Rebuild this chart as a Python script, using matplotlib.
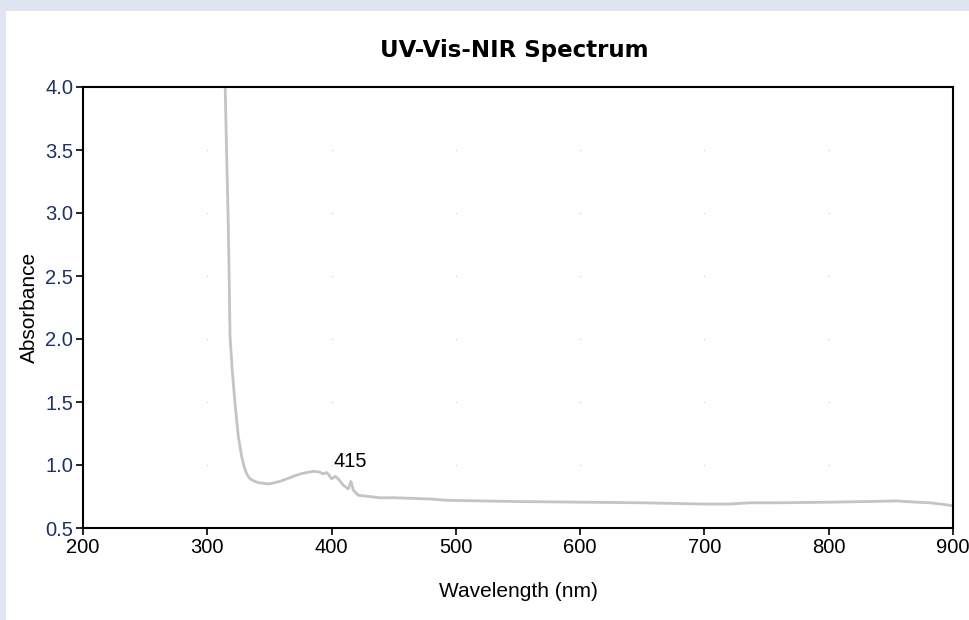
import numpy as np
import matplotlib.pyplot as plt
from matplotlib.patches import Rectangle

# spectrum
wavelength = [314.2, 314.4, 315.5, 316.7, 317.5, 318.3, 320.1, 322.3, 325.0, 327.6,
              329.5, 331.7, 334.0, 337.0, 341.0, 345.0, 349.0, 352.0, 358.5, 364.0,
              369.2, 375.0, 380.0, 385.3, 390.0, 393.3, 396.0, 398.0, 400.0, 403.0,
              405.4, 409.4, 413.4, 415.6, 417.5, 421.5, 430.0, 439.0, 450.0, 465.8,
              480.0, 492.6, 519.4, 550.0, 600.0, 650.0, 700.0, 720.0, 736.7, 760.0,
              801.0, 830.0, 854.6, 870.0, 881.5, 890.0, 897.6, 900.0]
absorbance = [4.2, 4.0, 3.5, 3.0, 2.55, 2.02, 1.75, 1.49, 1.225, 1.07,
              0.99, 0.93, 0.895, 0.875, 0.86, 0.855, 0.85, 0.855, 0.87, 0.89,
              0.91, 0.93, 0.94, 0.95, 0.945, 0.93, 0.94, 0.92, 0.89, 0.91,
              0.89, 0.84, 0.81, 0.87, 0.80, 0.76, 0.75, 0.74, 0.74, 0.735,
              0.73, 0.72, 0.715, 0.71, 0.705, 0.70, 0.69, 0.69, 0.70, 0.70,
              0.705, 0.71, 0.715, 0.705, 0.70, 0.69, 0.68, 0.675]
peak_label = "415"
peak_x, peak_y = 415, 0.95

x_ticks = [200, 300, 400, 500, 600, 700, 800, 900]
y_ticks = [0.5, 1.0, 1.5, 2.0, 2.5, 3.0, 3.5, 4.0]

plt.rcParams['font.family'] = ['Liberation Sans', 'DejaVu Sans']

fig = plt.figure(figsize=(9.7, 6.2), dpi=100, facecolor='#dfe6f2')
fig.patches.append(Rectangle((6 / 970, 0), 1, 1 - 11 / 620, transform=fig.transFigure,
                             facecolor='white', edgecolor='none', zorder=-1))

ax = fig.add_axes([83 / 970, 92 / 620, 870 / 970, 441 / 620])
ax.set_facecolor('white')

# faint dot grid at tick intersections
gx, gy = np.meshgrid(x_ticks[1:-1], y_ticks[1:-1])
ax.scatter(gx.ravel(), gy.ravel(), s=1.5, color='#dcdcdc', linewidths=0, zorder=1)

ax.plot(wavelength, absorbance, color='#c4c4c4', lw=2, zorder=2)
ax.text(peak_x, peak_y, peak_label, ha='center', va='bottom', fontsize=14.5, color='black')

ax.set_xlim(200, 900)
ax.set_ylim(0.5, 4.0)
ax.set_xticks(x_ticks)
ax.set_yticks(y_ticks)
ax.set_yticklabels([f"{v:.1f}" for v in y_ticks])
ax.tick_params(axis='x', length=5, width=1.2, pad=2, labelsize=14.5, labelcolor='black')
ax.tick_params(axis='y', length=5, width=1.2, pad=2, labelsize=14.5, labelcolor='#1c3166')
for s in ax.spines.values():
    s.set_linewidth(1.5)
    s.set_color('black')

ax.set_xlabel('Wavelength (nm)', fontsize=15, va='center')
ax.xaxis.set_label_coords(0.5, -0.145)
ax.set_ylabel('Absorbance', fontsize=15, va='center')
ax.yaxis.set_label_coords(-0.061, 0.5)

fig.text(514 / 970, 1 - 50 / 620, 'UV-Vis-NIR Spectrum', ha='center', va='center',
         fontsize=16.5, fontweight='bold', family=['DejaVu Sans'])

fig.savefig('out.png', dpi=100, facecolor=fig.get_facecolor())
